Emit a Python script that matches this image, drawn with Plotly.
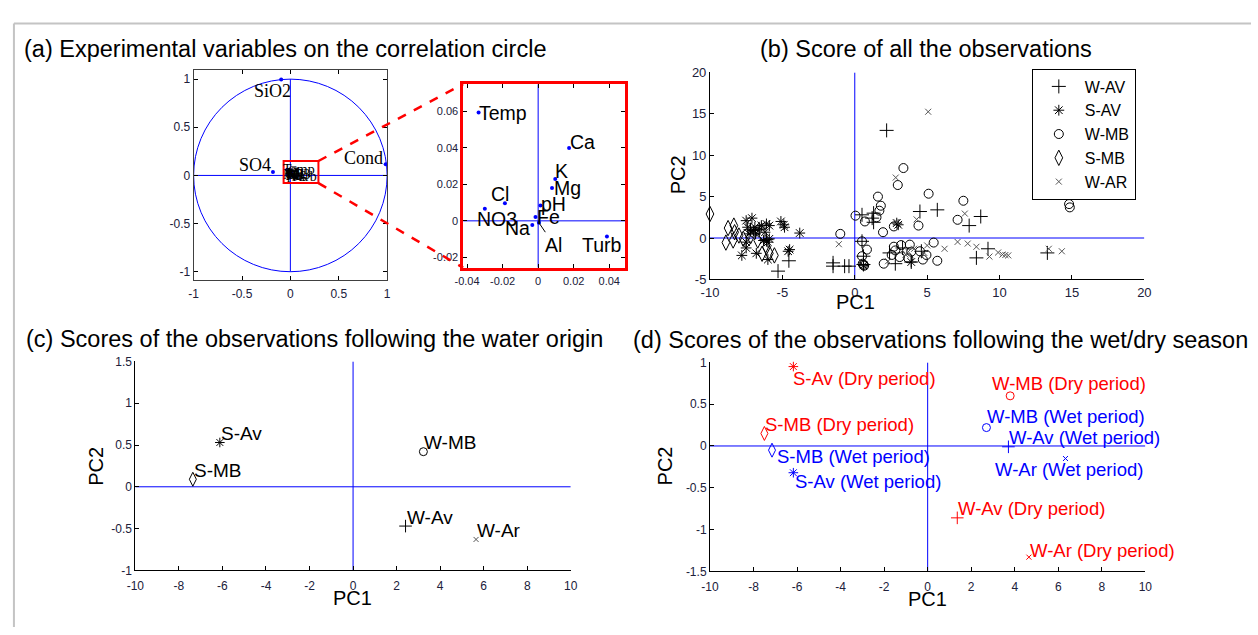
import plotly.graph_objects as go

W, H = 1258, 635

# ---------------- (a) variable loadings on the correlation circle ----------------
outer_vars = ["SiO2", "SO4", "Cond"]
outer_pc1 = [-0.095, -0.18, 0.985]
outer_pc2 = [0.995, 0.035, 0.115]

inner_vars = ["Temp", "Ca", "K", "Mg", "pH", "Fe", "Cl", "NO3", "Na", "Al", "Turb"]
inner_pc1 = [-0.0335, 0.0174, 0.0096, 0.0078, 0.0013, -0.0015, -0.0187, -0.030, -0.0033, 0.0004, 0.0387]
inner_pc2 = [0.0594, 0.040, 0.023, 0.018, 0.0084, 0.0021, 0.0097, 0.0066, -0.0023, -0.001, -0.0086]

circle_ticks = [-1, -0.5, 0, 0.5, 1]
circle_ticktext = ["-1", "-0.5", "0", "0.5", "1"]
zoom_xticks = [-0.04, -0.02, 0, 0.02, 0.04]
zoom_xticktext = ["-0.04", "-0.02", "0", "0.02", "0.04"]
zoom_yticks = [-0.02, 0, 0.02, 0.04, 0.06]
zoom_yticktext = ["-0.02", "0", "0.02", "0.04", "0.06"]

# ---------------- (b) scores of all observations (PC1, PC2) ----------------
W_AV = [(-7.2, 1.0), (-6.6, 1.1), (-6.1, -0.2), (-4.55, -2.75), (-5.3, -4.0), (-1.5, -3.0),
        (-1.5, -3.4), (-0.7, -3.4), (-0.4, -3.4), (0.5, 2.8), (1.3, 3.0), (1.3, 1.9), (1.2, 2.4),
        (2.2, 13.0), (4.5, 3.2), (5.7, 3.4), (7.9, 1.5), (8.7, 2.6), (0.5, -0.4), (0.6, -2.2),
        (2.8, -3.1), (3.9, -2.9), (3.3, -1.2), (2.4, -1.8), (8.4, -2.4), (9.2, -1.3),
        (13.3, -1.8), (4.6, -1.6), (0.6, -3.2)]
S_AV = [(-7.5, 2.1), (-7.1, 2.4), (-7.4, 1.3), (-6.9, 1.3), (-6.45, 1.5), (-6.1, 1.7), (-5.9, 1.5),
        (-6.2, 0.7), (-7.3, 0.5), (-6.85, 0.5), (-7.5, -0.5), (-6.0, -0.5), (-5.9, -0.1),
        (-7.5, -1.2), (-7.8, -2.1), (-6.8, -1.85), (-6.0, -2.6), (-5.1, 2.0), (-4.9, 1.6),
        (-4.85, 1.3), (-4.6, -1.6), (-4.5, -1.4), (-3.8, 0.6), (-6.6, 1.0), (-7.0, 0.9),
        (2.9, 1.8), (3.0, 1.6), (3.9, -2.9), (0.6, -3.3), (-6.3, -0.3)]
W_MB = [(-1.0, 0.5), (0.05, 2.7), (0.7, 2.0), (1.5, 2.5), (1.7, 3.3), (1.8, 3.9), (1.6, 5.0),
        (1.95, 0.7), (2.7, 1.4), (2.97, 6.4), (3.36, 8.45), (4.4, 1.5), (5.1, 5.35), (7.1, 2.2),
        (7.5, 4.5), (14.8, 4.1), (14.85, 3.7), (0.5, -0.4), (0.84, -1.4), (0.5, -2.2),
        (0.55, -3.1), (0.6, -3.25), (0.65, -3.35), (2.0, -3.1), (2.55, -2.05), (2.7, -1.05),
        (3.1, -2.3), (3.2, -0.85), (3.8, -0.8), (3.9, -1.65), (3.7, -2.45), (4.5, -1.6),
        (4.7, -2.6), (4.95, -2.05), (5.45, -0.55), (5.7, -2.75), (2.8, -1.5)]
S_MB = [(-10.0, 2.9), (-8.75, 1.2), (-8.35, 1.5), (-8.3, 0.7), (-8.9, -0.55), (-8.4, -0.3),
        (-7.7, -0.1), (-8.0, 0.3), (-6.7, -0.3), (-6.1, -1.1), (-5.9, -1.85), (-5.55, -2.1),
        (-6.4, -1.9), (-7.2, 0.2)]
W_AR = [(5.07, 15.25), (2.83, 7.3), (-1.1, -0.75), (4.27, 2.25), (7.6, 2.95), (6.2, -1.3),
        (7.1, -0.47), (7.8, -0.67), (8.4, -1.06), (9.3, -2.24), (9.9, -1.75), (10.2, -2.0),
        (10.4, -2.05), (10.6, -2.1), (13.4, -1.3), (14.3, -1.6), (3.7, -1.65), (2.3, -2.8),
        (3.5, -2.0), (4.1, -1.3), (4.8, -1.8), (2.9, 1.9), (5.0, -0.9), (3.3, -1.5)]

# ---------------- (c) mean scores by water origin ----------------
origin_names = ["S-Av", "S-MB", "W-MB", "W-Av", "W-Ar"]
origin_pc1 = [-6.12, -7.36, 3.23, 2.41, 5.65]
origin_pc2 = [0.53, 0.09, 0.42, -0.47, -0.63]

# ---------------- (d) mean scores by wet/dry season ----------------
season_names = ["S-Av (Dry period)", "S-MB (Dry period)", "S-MB (Wet period)",
                "S-Av (Wet period)", "W-MB (Dry period)", "W-MB (Wet period)",
                "W-Av (Wet period)", "W-Ar (Wet period)", "W-Av (Dry period)",
                "W-Ar (Dry period)"]
season_pc1 = [-6.17, -7.5, -7.15, -6.17, 3.79, 2.7, 3.71, 6.33, 1.36, 4.65]
season_pc2 = [0.95, 0.15, -0.05, -0.32, 0.60, 0.22, -0.01, -0.15, -0.86, -1.33]

score_xticks = [-10, -8, -6, -4, -2, 0, 2, 4, 6, 8, 10]
score_xticktext = ["-10", "-8", "-6", "-4", "-2", "0", "2", "4", "6", "8", "10"]
c_yticks = [-1, -0.5, 0, 0.5, 1, 1.5]
c_yticktext = ["-1", "-0.5", "0", "0.5", "1", "1.5"]
d_yticks = [-1.5, -1, -0.5, 0, 0.5, 1]
d_yticktext = ["-1.5", "-1", "-0.5", "0", "0.5", "1"]
b_xticks = [-10, -5, 0, 5, 10, 15, 20]
b_xticktext = ["-10", "-5", "0", "5", "10", "15", "20"]
b_yticks = [-5, 0, 5, 10, 15, 20]
b_yticktext = ["-5", "0", "5", "10", "15", "20"]

# ---------------- styling ----------------
SANS = "Liberation Sans, Arial, sans-serif"
SERIF = "Liberation Serif, Times New Roman, serif"
TICKC = "#20203a"
BLUE = "#0000ff"
RED = "#ff0000"

SYMBOL = {
    "W-AV": ("cross-thin-open", 10, "black"),
    "S-AV": ("asterisk-open", 9, "black"),
    "W-MB": ("circle-open", 9, "black"),
    "S-MB": ("diamond-tall-open", 11, "black"),
    "W-AR": ("x-thin-open", 6, "#555555"),
}


def site_key(name):
    return name.split(" ")[0].upper()


def xdom(p0, p1):
    return [p0 / W, p1 / W]


def ydom(top, bottom):
    return [1 - bottom / H, 1 - top / H]


# panel geometry in pixels (left, right, top, bottom)
GEOM = {
    1: (187, 383, 65, 280),     # correlation circle
    2: (460, 624, 79, 267),     # zoomed loadings
    3: (710, 1150, 67, 279),    # all scores
    4: (128, 569, 363, 577),    # water origin
    5: (710, 1151, 364, 578),   # season
}
RANGES = {
    1: ([-1, 1], [-1.09, 1.09]),
    2: ([-0.0422, 0.0489], [-0.0257, 0.075]),
    3: ([-10, 20], [-5, 20]),
    4: ([-10, 10], [-1, 1.5]),
    5: ([-10, 10], [-1.5, 1]),
}


def to_paper(k, x, y):
    l, r, t, b = GEOM[k]
    (x0, x1), (y0, y1) = RANGES[k]
    px = l + (x - x0) / (x1 - x0) * (r - l)
    py = b - (y - y0) / (y1 - y0) * (b - t)
    return px / W, 1 - py / H


fig = go.Figure()

# ---- (a) circle with all variables
fig.add_trace(go.Scatter(
    x=outer_pc1 + inner_pc1, y=outer_pc2 + inner_pc2, mode="markers",
    marker=dict(symbol="circle", size=4, color=BLUE),
    xaxis="x", yaxis="y", showlegend=False, cliponaxis=False, hoverinfo="skip"))

# ---- (a) zoomed loadings
fig.add_trace(go.Scatter(
    x=inner_pc1, y=inner_pc2, mode="markers",
    marker=dict(symbol="circle", size=4, color=BLUE),
    xaxis="x2", yaxis="y2", showlegend=False, cliponaxis=False, hoverinfo="skip"))

# ---- (b) all observations
for name, pts in [("W-AV", W_AV), ("S-AV", S_AV), ("W-MB", W_MB), ("S-MB", S_MB), ("W-AR", W_AR)]:
    sym, size, col = SYMBOL[name]
    fig.add_trace(go.Scatter(
        x=[p[0] for p in pts], y=[p[1] for p in pts], mode="markers", name=name,
        marker=dict(symbol=sym, size=size, color=col, line=dict(width=1, color=col)),
        xaxis="x3", yaxis="y3", cliponaxis=False, hoverinfo="skip"))

# ---- (c) water origin
for nm, x, y in zip(origin_names, origin_pc1, origin_pc2):
    sym, size, col = SYMBOL[site_key(nm)]
    fig.add_trace(go.Scatter(
        x=[x], y=[y], mode="markers",
        marker=dict(symbol=sym, size=size - 1, color=col, line=dict(width=1, color=col)),
        xaxis="x4", yaxis="y4", showlegend=False, cliponaxis=False, hoverinfo="skip"))

# ---- (d) season
for nm, x, y in zip(season_names, season_pc1, season_pc2):
    sym, size, _ = SYMBOL[site_key(nm)]
    col = RED if "Dry" in nm else BLUE
    fig.add_trace(go.Scatter(
        x=[x], y=[y], mode="markers",
        marker=dict(symbol=sym, size=size - 1, color=col, line=dict(width=1, color=col)),
        xaxis="x5", yaxis="y5", showlegend=False, cliponaxis=False, hoverinfo="skip"))

# ---------------- axes ----------------
def axis(k, which, tickvals, ticktext, size, boxed=False, linecolor="black", lw=1, standoff=0):
    l, r, t, b = GEOM[k]
    xr, yr = RANGES[k]
    d = dict(
        range=xr if which == "x" else yr,
        domain=xdom(l, r) if which == "x" else ydom(t, b),
        showgrid=False, zeroline=False, showline=True, linecolor=linecolor, linewidth=lw,
        ticks="inside", ticklen=4, tickwidth=1, tickcolor="black",
        tickvals=tickvals, ticktext=ticktext, ticklabelstandoff=standoff,
        tickfont=dict(family=SANS, size=size, color=TICKC),
        mirror="ticks" if boxed else False, fixedrange=True,
    )
    suffix = "" if k == 1 else str(k)
    d["anchor"] = ("y" if which == "x" else "x") + suffix
    return d


layout_axes = {
    "xaxis": axis(1, "x", circle_ticks, circle_ticktext, 12, boxed=True, linecolor="#404040", standoff=2),
    "yaxis": axis(1, "y", circle_ticks, circle_ticktext, 12, boxed=True, linecolor="#404040"),
    "xaxis2": axis(2, "x", zoom_xticks, zoom_xticktext, 11, boxed=True, linecolor=RED, lw=2.5, standoff=1),
    "yaxis2": axis(2, "y", zoom_yticks, zoom_yticktext, 11, boxed=True, linecolor=RED, lw=2.5),
    "xaxis3": axis(3, "x", b_xticks, b_xticktext, 13, standoff=1),
    "yaxis3": axis(3, "y", b_yticks, b_yticktext, 13),
    "xaxis4": axis(4, "x", score_xticks, score_xticktext, 12, standoff=4),
    "yaxis4": axis(4, "y", c_yticks, c_yticktext, 12),
    "xaxis5": axis(5, "x", score_xticks, score_xticktext, 12, standoff=4),
    "yaxis5": axis(5, "y", d_yticks, d_yticktext, 12),
}

shapes = []


def ref(k):
    s = "" if k == 1 else str(k)
    return "x" + s, "y" + s


def line(k, x0, y0, x1, y1, color=BLUE, width=1, dash="solid"):
    xr_, yr_ = ref(k)
    shapes.append(dict(type="line", xref=xr_, yref=yr_, x0=x0, y0=y0, x1=x1, y1=y1,
                       line=dict(color=color, width=width, dash=dash), layer="below"))


# outer frame
shapes.append(dict(type="line", xref="paper", yref="paper", x0=5 / W, x1=1, y0=1 - 17 / H, y1=1 - 17 / H,
                   line=dict(color="#c4c4c4", width=2)))
shapes.append(dict(type="line", xref="paper", yref="paper", x0=5 / W, x1=5 / W, y0=0, y1=1 - 17 / H,
                   line=dict(color="#c4c4c4", width=2)))

# correlation circle and its axes
shapes.append(dict(type="circle", xref="x", yref="y", x0=-1, y0=-1, x1=1, y1=1,
                   line=dict(color=BLUE, width=1), layer="below"))
line(1, -1, 0, 1, 0)
line(1, 0, -1, 0, 1)

# zoom box on the circle and connectors to the inset
zx0, zx1, zy0, zy1 = -0.07, 0.29, -0.08, 0.15
shapes.append(dict(type="rect", xref="x", yref="y", x0=zx0, x1=zx1, y0=zy0, y1=zy1,
                   line=dict(color=RED, width=2)))
for cy, iy in [(zy1, RANGES[2][1][1]), (zy0, RANGES[2][1][0])]:
    px0, py0 = to_paper(1, zx1, cy)
    px1, py1 = to_paper(2, RANGES[2][0][0], iy)
    shapes.append(dict(type="line", xref="paper", yref="paper", x0=px0, y0=py0, x1=px1, y1=py1,
                       line=dict(color=RED, width=2.5, dash="dash")))

# inset axes
line(2, RANGES[2][0][0], 0, RANGES[2][0][1], 0)
line(2, 0, RANGES[2][1][0], 0, RANGES[2][1][1])
# score axes
line(3, -10, 0, 20, 0)
line(3, 0, -5, 0, 20)
line(4, -10, 0, 10, 0)
line(4, 0, -1, 0, 1.5)
line(5, -10, 0, 10, 0)
line(5, 0, -1.5, 0, 1)

# ---------------- text ----------------
ann = []


def label(k, x, y, text, xanchor="left", xshift=0, yshift=0, size=16, color="black", family=SANS):
    xr_, yr_ = ref(k)
    ann.append(dict(x=x, y=y, xref=xr_, yref=yr_, text=text, showarrow=False,
                    xanchor=xanchor, yanchor="middle", xshift=xshift, yshift=yshift,
                    font=dict(family=family, size=size, color=color)))


def ptext(px, py, text, size, xanchor="center", angle=0):
    ann.append(dict(x=px / W, y=1 - py / H, xref="paper", yref="paper", text=text, showarrow=False,
                    xanchor=xanchor, yanchor="middle", textangle=angle,
                    font=dict(family=SANS, size=size, color="black")))


# panel titles
ptext(280, 43, "(a) Experimental variables on the correlation circle", 23.5)
ptext(929, 43, "(b) Score of all the observations", 23.5)
ptext(309, 340, "(c) Scores of the observations following the water origin", 23.5)
ptext(943, 341, "(d) Scores of the observations following the wet/dry season", 23.5)

# axis titles
ptext(857, 302, "PC1", 20)
ptext(678, 172, "PC2", 20, angle=-90)
ptext(348, 605, "PC1", 20)
ptext(88, 470, "PC2", 20, angle=-90)
ptext(930, 606, "PC1", 20)
ptext(664, 470, "PC2", 20, angle=-90)

# circle labels
outer_place = {"SiO2": ("center", -9, -11), "SO4": ("right", 0, 7), "Cond": ("right", -1, 6)}
for nm, x, y in zip(outer_vars, outer_pc1, outer_pc2):
    xa, xs, ys = outer_place[nm]
    label(1, x, y, nm, xanchor=xa, xshift=xs, yshift=ys, size=18, family=SERIF)
for nm, x, y in zip(inner_vars, inner_pc1, inner_pc2):
    label(1, x, y, nm, xanchor="left", xshift=-6, yshift=0, size=14, family=SERIF)

# inset labels
inner_place = {
    "Temp": ("left", -2, 0), "Ca": ("left", -1, 6), "K": ("left", -2, 8), "Mg": ("left", 0, 0),
    "pH": ("left", -1, 2), "Fe": ("left", 0, 0), "Cl": ("center", -5, 9),
    "NO3": ("left", -10, -10), "Na": ("right", 0, -3), "Turb": ("center", -5, -8),
}
for nm, x, y in zip(inner_vars, inner_pc1, inner_pc2):
    if nm == "Al":
        ann.append(dict(x=x, y=y, xref="x2", yref="y2", text=nm, showarrow=True, arrowhead=0,
                        arrowwidth=1, arrowcolor="black", ax=15, ay=22, standoff=0,
                        font=dict(family=SANS, size=19.5, color="black")))
        continue
    xa, xs, ys = inner_place[nm]
    label(2, x, y, nm, xanchor=xa, xshift=xs, yshift=ys, size=19.5)

# water-origin labels
for nm, x, y in zip(origin_names, origin_pc1, origin_pc2):
    label(4, x, y, nm, xanchor="left", xshift=-1, yshift=9, size=19)

# season labels
season_place = [(-2, -12), (-1, 9), (3, -6), (0, -9), (-20, 12), (-1, 11), (-1, 9), (-72, -11), (-1, 9), (-1, 7)]
for nm, x, y, (xs, ys) in zip(season_names, season_pc1, season_pc2, season_place):
    col = RED if "Dry" in nm else BLUE
    label(5, x, y, nm, xanchor="left", xshift=xs, yshift=ys, size=18.5, color=col)

fig.update_layout(
    width=W, height=H, autosize=False,
    margin=dict(l=0, r=0, t=0, b=0),
    paper_bgcolor="white", plot_bgcolor="white",
    shapes=shapes, annotations=ann,
    showlegend=True,
    legend=dict(x=1036 / W, y=1 - 63 / H, xanchor="left", yanchor="top",
                bgcolor="white", bordercolor="black", borderwidth=1,
                font=dict(family=SANS, size=16, color="black"), itemwidth=42,
                entrywidth=74, tracegroupgap=0),
    **layout_axes,
)

fig.write_html("out.html")
